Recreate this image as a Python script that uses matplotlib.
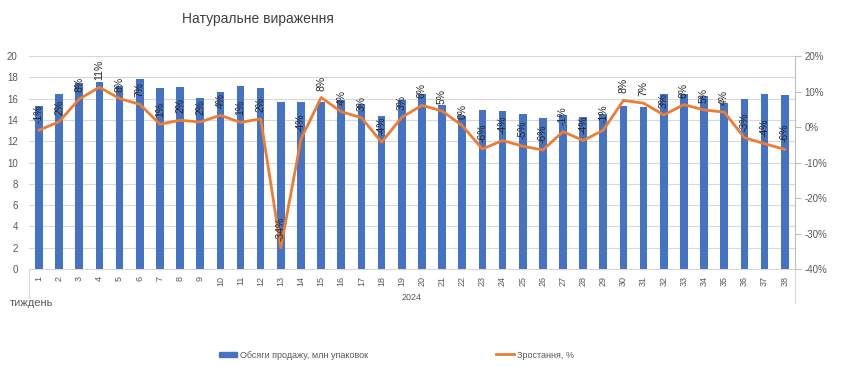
import matplotlib
matplotlib.use("Agg")
import matplotlib.pyplot as plt
from matplotlib.lines import Line2D
from matplotlib.patches import Patch
from matplotlib.ticker import FuncFormatter

plt.rcParams["font.family"] = ["Liberation Sans", "DejaVu Sans"]

weeks = [str(w) for w in range(1, 39)]
sales = [15.3, 16.4, 17.5, 17.6, 17.2, 17.8, 17.0, 17.1, 16.1, 16.6,
         17.2, 17.0, 15.7, 15.7, 15.7, 15.9, 15.5, 14.4, 15.9, 16.4,
         15.4, 14.4, 14.9, 14.8, 14.6, 14.2, 14.5, 14.3, 14.6, 15.3,
         15.2, 16.4, 16.4, 16.2, 15.6, 16.0, 16.4, 16.3]
growth = [-0.9, 1.5, 7.9, 11.2, 8.0, 6.4, 0.8, 1.9, 1.4, 3.3,
          1.3, 2.3, -34.0, -3.4, 8.3, 4.3, 2.6, -4.3, 2.7, 6.1,
          4.5, 0.4, -6.2, -3.8, -5.4, -6.5, -1.3, -3.8, -0.9, 7.5,
          6.7, 3.4, 6.3, 4.8, 4.2, -3.0, -4.7, -6.3]
growth_labels = ["-1%", "2%", "8%", "11%", "8%", "7%", "1%", "2%", "2%", "4%",
                 "1%", "2%", "-34%", "-4%", "8%", "4%", "3%", "-4%", "3%", "6%",
                 "5%", "0%", "-6%", "-4%", "-5%", "-6%", "-1%", "-4%", "-1%", "8%",
                 "7%", "3%", "6%", "5%", "4%", "-3%", "-4%", "-6%"]

BLUE = "#4472C4"
ORANGE = "#ED7D31"
GRID = "#D9D9D9"
TXT = "#595959"

fig = plt.figure(figsize=(8.5, 3.66), dpi=100)
ax = fig.add_axes([0.034, 0.265, 0.901, 0.582])
x = list(range(len(weeks)))

ax.bar(x, sales, width=0.38, color=BLUE, zorder=2)
ax.set_ylim(0, 20)
ax.set_yticks(range(0, 21, 2))
ax.set_xlim(-0.5, len(weeks) - 0.5)
ax.set_xticks(x)
ax.set_xticklabels(weeks, rotation=90, fontsize=6.5, color=TXT)
ax.tick_params(axis="x", length=0, pad=5)
ax.tick_params(axis="y", length=0, labelsize=7, colors=TXT, pad=8)
ax.grid(axis="y", color=GRID, linewidth=0.8, zorder=0)
for side in ["top", "left", "right"]:
    ax.spines[side].set_visible(False)
ax.spines["bottom"].set_color(GRID)

ax2 = ax.twinx()
ax2.plot(x, growth, color=ORANGE, linewidth=2, zorder=3)
ax2.set_ylim(-40, 20)
ax2.set_yticks(range(-40, 21, 10))
ax2.yaxis.set_major_formatter(FuncFormatter(lambda v, p: f"{int(v)}%"))
ax2.tick_params(axis="y", length=4, color="#BFBFBF", labelsize=7, colors=TXT, pad=3)
ax2.tick_params(axis="y", which="both", color="#BFBFBF")
for side in ["top", "left", "bottom"]:
    ax2.spines[side].set_visible(False)
ax2.spines["right"].set_color("#BFBFBF")

for xi, yi, lab in zip(x, growth, growth_labels):
    ax2.annotate(lab, (xi, yi), xytext=(0, 5), textcoords="offset points",
                 rotation=90, ha="center", va="bottom", fontsize=7.5,
                 color="#262626", zorder=4)

# category axis dividers below the plot
for xa in (0, 1):
    ax.add_line(Line2D([xa, xa], [0, -0.16], transform=ax.transAxes,
                       color=GRID, linewidth=0.8, clip_on=False))

fig.text(0.484, 0.188, "2024", ha="center", va="center", fontsize=6.5, color=TXT)
fig.text(0.012, 0.172, "тиждень", ha="left", va="center", fontsize=8, color=TXT)
fig.text(0.304, 0.948, "Натуральне вираження", ha="center", va="center",
         fontsize=10, color="#404040")

handles = [Patch(color=BLUE), Line2D([0], [0], color=ORANGE, linewidth=2)]
fig.legend(handles[:1], ["Обсяги продажу, млн упаковок"], loc="center left",
           bbox_to_anchor=(0.248, 0.03), frameon=False, fontsize=6.5,
           handlelength=2, handleheight=0.5, handletextpad=0.3,
           labelcolor=TXT)
fig.legend(handles[1:], ["Зростання, %"], loc="center left",
           bbox_to_anchor=(0.574, 0.03), frameon=False, fontsize=6.5,
           handlelength=2, handletextpad=0.3, labelcolor=TXT)

fig.savefig("out.png", dpi=100)
